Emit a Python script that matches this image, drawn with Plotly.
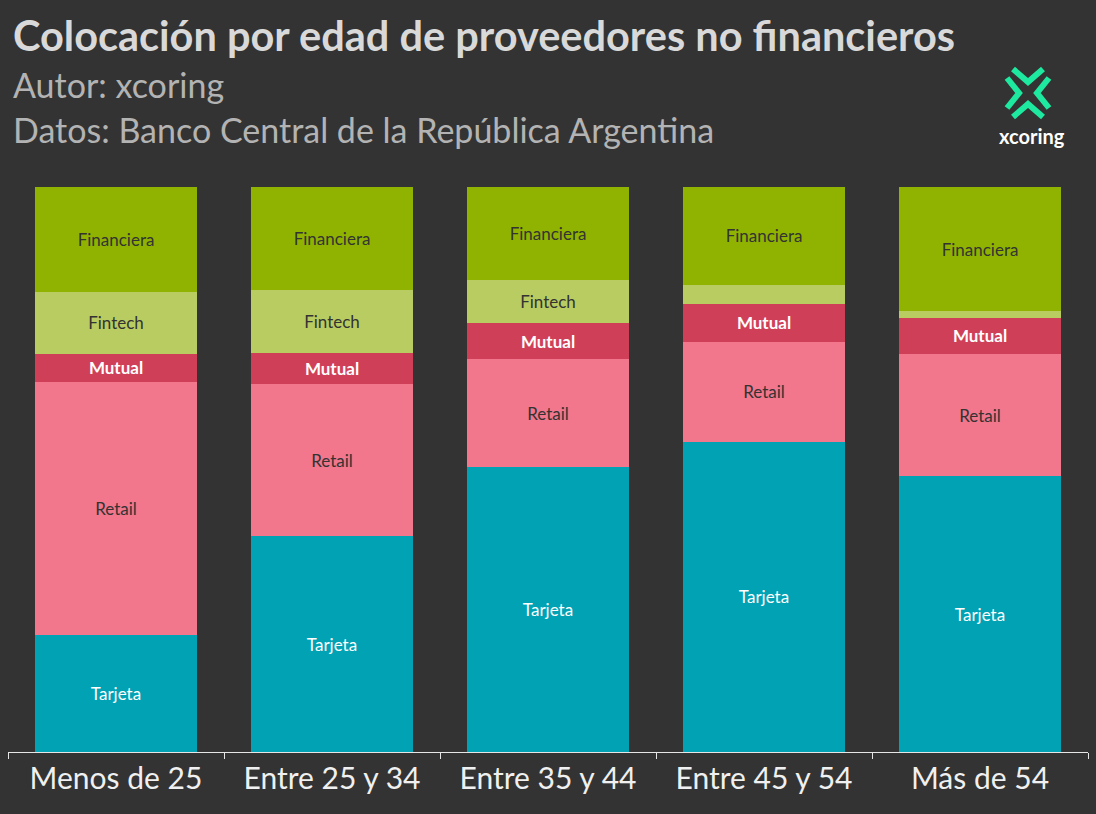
import plotly.graph_objects as go

categories = ["Menos de 25", "Entre 25 y 34", "Entre 35 y 44", "Entre 45 y 54", "Más de 54"]
tarjeta = [20.7, 38.2, 50.4, 54.9, 48.8]
retail = [44.8, 26.9, 19.1, 17.7, 21.6]
mutual = [5.0, 5.5, 6.4, 6.7, 6.5]
fintech = [11.0, 11.2, 7.6, 3.4, 1.1]
financiera = [18.5, 18.2, 16.5, 17.3, 22.0]

series = [
    ("Tarjeta", tarjeta, "#00a2b4", "white"),
    ("Retail", retail, "#f2768c", "#333333"),
    ("Mutual", mutual, "#d03f58", "white"),
    ("Fintech", fintech, "#b8cc62", "#333333"),
    ("Financiera", financiera, "#8fb300", "#333333"),
]

fig = go.Figure()
for name, vals, col, tcol in series:
    texts = [name if v >= 4 else "" for v in vals]
    fig.add_trace(go.Bar(
        x=categories, y=vals, name=name, marker_color=col, marker_line_width=0,
        text=texts, textposition="inside", insidetextanchor="middle",
        textangle=0, constraintext="none",
        textfont=dict(color=tcol, size=17, family="Lato",
                      weight="bold" if name == "Mutual" else "normal"),
        hoverinfo="skip"))

W, H = 1096, 814
L, R, T, B = 8, 8, 187, 62
def px(x): return (x - L) / (W - L - R)
def py(y): return (H - B - y) / (H - T - B)

shapes = []
chevrons = [
    [(1013, 69), (1028, 82), (1043, 69)],
    [(1013, 117), (1028, 104), (1043, 117)],
    [(1007, 78), (1019, 93), (1007, 108)],
    [(1049, 78), (1037, 93), (1049, 108)],
]
for ch in chevrons:
    p = "M %f,%f L %f,%f L %f,%f" % (px(ch[0][0]), py(ch[0][1]), px(ch[1][0]), py(ch[1][1]), px(ch[2][0]), py(ch[2][1]))
    shapes.append(dict(type="path", path=p, xref="paper", yref="paper",
                       line=dict(color="#1de9a0", width=6)))

fig.update_layout(
    width=W, height=H, barmode="stack", bargap=0.25, showlegend=False,
    paper_bgcolor="#333333", plot_bgcolor="#333333",
    margin=dict(l=L, r=R, t=T, b=B),
    font=dict(family="Lato", color="#e6e6e6"),
    shapes=shapes,
    xaxis=dict(showline=True, linecolor="#e6e6e6", linewidth=1, ticks="outside",
               tickson="boundaries", ticklen=6, tickcolor="#e6e6e6",
               tickfont=dict(size=30, color="#f0f0f0", family="Lato"), showgrid=False),
    yaxis=dict(range=[0, 100], visible=False, showgrid=False),
    annotations=[
        dict(text="<b>Colocación por edad de proveedores no financieros</b>", x=px(11), y=py(35),
             xref="paper", yref="paper", xanchor="left", yanchor="middle", showarrow=False,
             font=dict(size=41.5, color="#d9d9d9", family="Lato")),
        dict(text="Autor: xcoring", x=px(11), y=py(84), xref="paper", yref="paper",
             xanchor="left", yanchor="middle", showarrow=False,
             font=dict(size=34, color="#b3b3b3", family="Lato")),
        dict(text="Datos: Banco Central de la República Argentina", x=px(11), y=py(130),
             xref="paper", yref="paper", xanchor="left", yanchor="middle", showarrow=False,
             font=dict(size=34, color="#b3b3b3", family="Lato")),
        dict(text="<b>xcoring</b>", x=px(1032), y=py(136), xref="paper", yref="paper",
             xanchor="center", yanchor="middle", showarrow=False,
             font=dict(size=20, color="white", family="Lato")),
    ],
)
fig.write_html("out.html", config={"displayModeBar": False},
               post_script="document.body.style.margin='0';document.body.style.background='#333333';")
